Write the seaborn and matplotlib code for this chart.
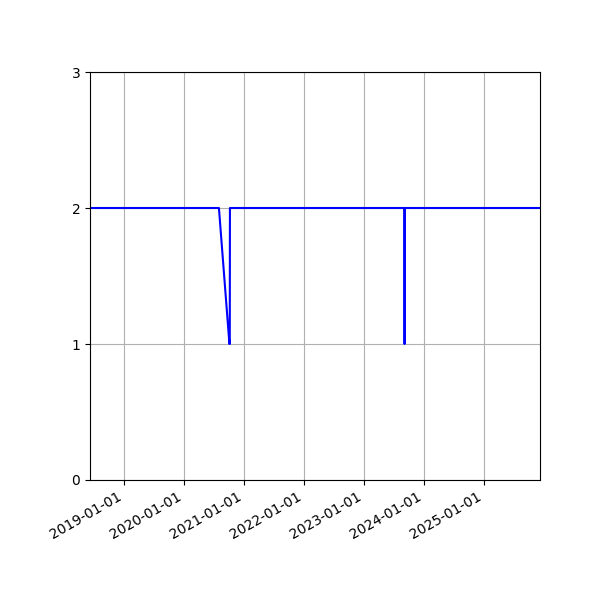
import pandas as pd
import matplotlib
matplotlib.use("Agg")
import matplotlib.pyplot as plt
import matplotlib.dates as mdates
import seaborn as sns

# Dữ liệu
dates = ["2018-06-08 00:00", "2020-08-01 00:00", "2020-10-04 00:00", "2020-10-06 00:00",
         "2020-10-07 00:00", "2023-09-05 00:00", "2023-09-05 12:00", "2023-09-06 00:00",
         "2025-12-08 00:00"]
values = [2, 2, 1, 1, 2, 2, 1, 2, 2]

df = pd.DataFrame({"date": pd.to_datetime(dates, format="%Y-%m-%d %H:%M"), "value": values})

fig, ax = plt.subplots(figsize=(6, 6), dpi=100)
sns.lineplot(x="date", y="value", data=df, color="blue", ax=ax, estimator=None)

ax.set_xlim(df["date"].min(), df["date"].max())
ax.set_ylim(0, 3)
ax.set_yticks([0, 1, 2, 3])
ax.xaxis.set_major_locator(mdates.YearLocator())
ax.xaxis.set_major_formatter(mdates.DateFormatter("%Y-%m-%d"))
ax.set_xlabel("")
ax.set_ylabel("")
ax.grid(True)

fig.autofmt_xdate()
fig.subplots_adjust(left=0.15, right=0.9, top=0.88, bottom=0.2)
fig.savefig("out.png", dpi=100)
